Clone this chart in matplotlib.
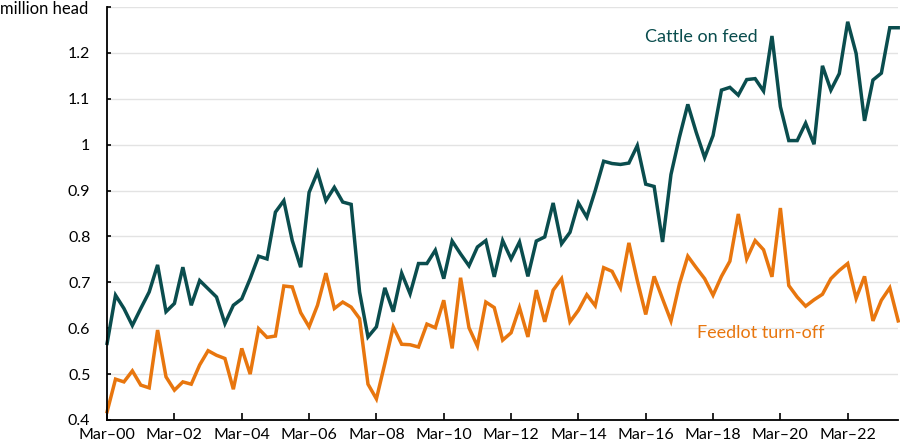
import matplotlib
matplotlib.use("Agg")
import matplotlib.pyplot as plt
import numpy as np

cattle_on_feed = [
    0.567, 0.672, 0.643, 0.606, 0.643, 0.679, 0.738, 0.636, 0.654, 0.733,
    0.650, 0.704, 0.686, 0.668, 0.610, 0.650, 0.664, 0.708, 0.757, 0.751,
    0.853, 0.878, 0.791, 0.733, 0.896, 0.940, 0.878, 0.907, 0.875, 0.870,
    0.679, 0.581, 0.603, 0.688, 0.636, 0.720, 0.675, 0.741, 0.741, 0.770,
    0.708, 0.790, 0.762, 0.736, 0.777, 0.791, 0.712, 0.791, 0.751, 0.788,
    0.713, 0.790, 0.799, 0.873, 0.784, 0.809, 0.873, 0.842, 0.900, 0.964,
    0.959, 0.957, 0.960, 0.998, 0.914, 0.909, 0.788, 0.935, 1.016, 1.088,
    1.027, 0.972, 1.020, 1.119, 1.125, 1.108, 1.142, 1.144, 1.117, 1.237,
    1.083, 1.009, 1.009, 1.047, 1.001, 1.172, 1.119, 1.155, 1.268, 1.199,
    1.052, 1.141, 1.156, 1.255, 1.255,
]

feedlot_turnoff = [
    0.418, 0.489, 0.483, 0.507, 0.476, 0.470, 0.596, 0.494, 0.465, 0.483,
    0.478, 0.520, 0.551, 0.541, 0.534, 0.467, 0.556, 0.500, 0.599, 0.580,
    0.583, 0.692, 0.690, 0.634, 0.603, 0.650, 0.720, 0.643, 0.657, 0.646,
    0.621, 0.478, 0.446, 0.523, 0.603, 0.565, 0.564, 0.559, 0.609, 0.601,
    0.661, 0.556, 0.710, 0.601, 0.561, 0.657, 0.645, 0.574, 0.590, 0.645,
    0.581, 0.683, 0.614, 0.683, 0.708, 0.614, 0.639, 0.673, 0.649, 0.732,
    0.724, 0.688, 0.786, 0.704, 0.630, 0.713, 0.664, 0.616, 0.696, 0.757,
    0.732, 0.708, 0.672, 0.713, 0.746, 0.849, 0.751, 0.791, 0.771, 0.712,
    0.862, 0.693, 0.668, 0.648, 0.662, 0.674, 0.708, 0.726, 0.741, 0.665,
    0.713, 0.616, 0.661, 0.688, 0.616,
]

tick_labels = ["Mar\u201300", "Mar\u201302", "Mar\u201304", "Mar\u201306", "Mar\u201308",
               "Mar\u201310", "Mar\u201312", "Mar\u201314", "Mar\u201316", "Mar\u201318",
               "Mar\u201320", "Mar\u201322"]
y_ticks = [0.4, 0.5, 0.6, 0.7, 0.8, 0.9, 1.0, 1.1, 1.2, 1.3]
y_labels = ["0.4", "0.5", "0.6", "0.7", "0.8", "0.9", "1", "1.1", "1.2", ""]

plt.rcParams['font.family'] = ['Lato', 'DejaVu Sans']

teal = "#0a4d4e"
orange = "#e8760e"

fig = plt.figure(figsize=(9, 4.43), dpi=100)
ax = fig.add_axes([0.119, 0.052, 0.879, 0.932])

q = np.arange(len(cattle_on_feed))
ax.plot(q, cattle_on_feed, color=teal, lw=2.5, solid_joinstyle='miter', clip_on=False)
ax.plot(q, feedlot_turnoff, color=orange, lw=2.5, solid_joinstyle='miter', clip_on=False)

ax.set_xlim(0, len(cattle_on_feed) - 1)
ax.set_ylim(0.4, 1.3)
ax.set_xticks(np.arange(0, 8 * len(tick_labels), 8))
ax.set_xticklabels(tick_labels, fontsize=11.5)
ax.set_yticks(y_ticks)
ax.set_yticklabels(y_labels, fontsize=11.5)
ax.tick_params(axis='x', direction='in', length=5, width=1.2, pad=6, color='black')
ax.tick_params(axis='y', direction='in', length=3, width=1.2, pad=12, color='black')
ax.grid(axis='y', color='#e3e3e3', lw=1)
ax.set_axisbelow(True)
for s in ['top', 'right']:
    ax.spines[s].set_visible(False)
for s in ['left', 'bottom']:
    ax.spines[s].set_linewidth(1.3)
    ax.spines[s].set_color('black')

fig.text(0.0, 0.998, "million head", fontsize=12, ha='left', va='top')
ax.text(0.68, 0.928, "Cattle on feed", transform=ax.transAxes, fontsize=13,
        color=teal, ha='left', va='center')
ax.text(0.746, 0.21, "Feedlot turn-off", transform=ax.transAxes, fontsize=13,
        color=orange, ha='left', va='center')

fig.savefig("out.png", dpi=100)
